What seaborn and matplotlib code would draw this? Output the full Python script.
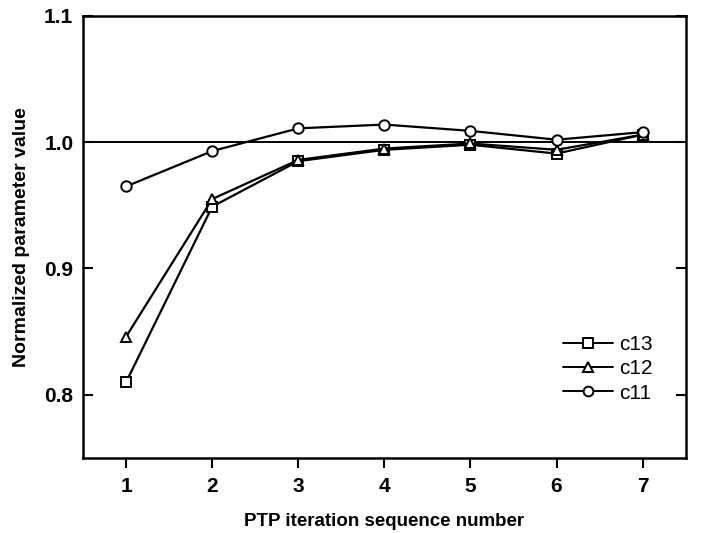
import numpy as np
import pandas as pd
import seaborn as sns
import matplotlib.pyplot as plt
plt.switch_backend('agg')

iteration = [1, 2, 3, 4, 5, 6, 7]
c13 = [0.810, 0.949, 0.985, 0.994, 0.998, 0.991, 1.006]
c12 = [0.846, 0.955, 0.986, 0.995, 0.999, 0.994, 1.006]
c11 = [0.965, 0.993, 1.011, 1.014, 1.009, 1.002, 1.008]
series_names = ['c13', 'c12', 'c11']
series_markers = ['s', '^', 'o']

sns.set_style('ticks')
plt.rcParams['font.family'] = ['Liberation Sans', 'DejaVu Sans']
plt.rcParams['text.color'] = 'black'

fig = plt.figure(figsize=(7.04, 5.33), dpi=100)
ax = fig.add_axes([0.118, 0.141, 0.856, 0.829])

# reference line at 1.0
ax.axhline(1.0, color='black', lw=1.4, zorder=1)

for name, vals, mk in zip(series_names, [c13, c12, c11], series_markers):
    df = pd.DataFrame({'x': iteration, 'y': vals})
    sns.lineplot(data=df, x='x', y='y', ax=ax, color='black', lw=1.6,
                 marker=mk, markersize=7.5, markerfacecolor='white',
                 markeredgecolor='black', markeredgewidth=1.4, label=name,
                 zorder=3)

ax.set_xlim(0.5, 7.5)
ax.set_ylim(0.75, 1.1)
ax.set_xticks(iteration)
ax.set_yticks([0.8, 0.9, 1.0, 1.1])
ax.set_yticklabels(['0.8', '0.9', '1.0', '1.1'])
ax.tick_params(axis='x', direction='out', length=7, width=1.5, labelsize=15,
               pad=7, color='black', labelcolor='black')
ax.tick_params(axis='y', direction='in', length=7, width=1.5, labelsize=15,
               right=True, pad=7, color='black', labelcolor='black')
for lab in ax.get_xticklabels() + ax.get_yticklabels():
    lab.set_fontweight('bold')
for sp in ax.spines.values():
    sp.set_linewidth(1.8)
    sp.set_color('black')
    sp.set_visible(True)

ax.set_xlabel('PTP iteration sequence number', fontsize=13.5, fontweight='bold',
              labelpad=12, color='black')
ax.set_ylabel('Normalized parameter value', fontsize=14, fontweight='bold',
              labelpad=10, color='black')

leg = ax.legend(loc='lower right', bbox_to_anchor=(0.945, 0.125), frameon=False,
                fontsize=15, handlelength=2.4, handletextpad=0.3, labelspacing=0.25,
                borderpad=0, borderaxespad=0, labelcolor='black')
for h in leg.legend_handles:
    h.set_markersize(7)
    h.set_linewidth(1.4)

fig.savefig('out.png', dpi=100)
